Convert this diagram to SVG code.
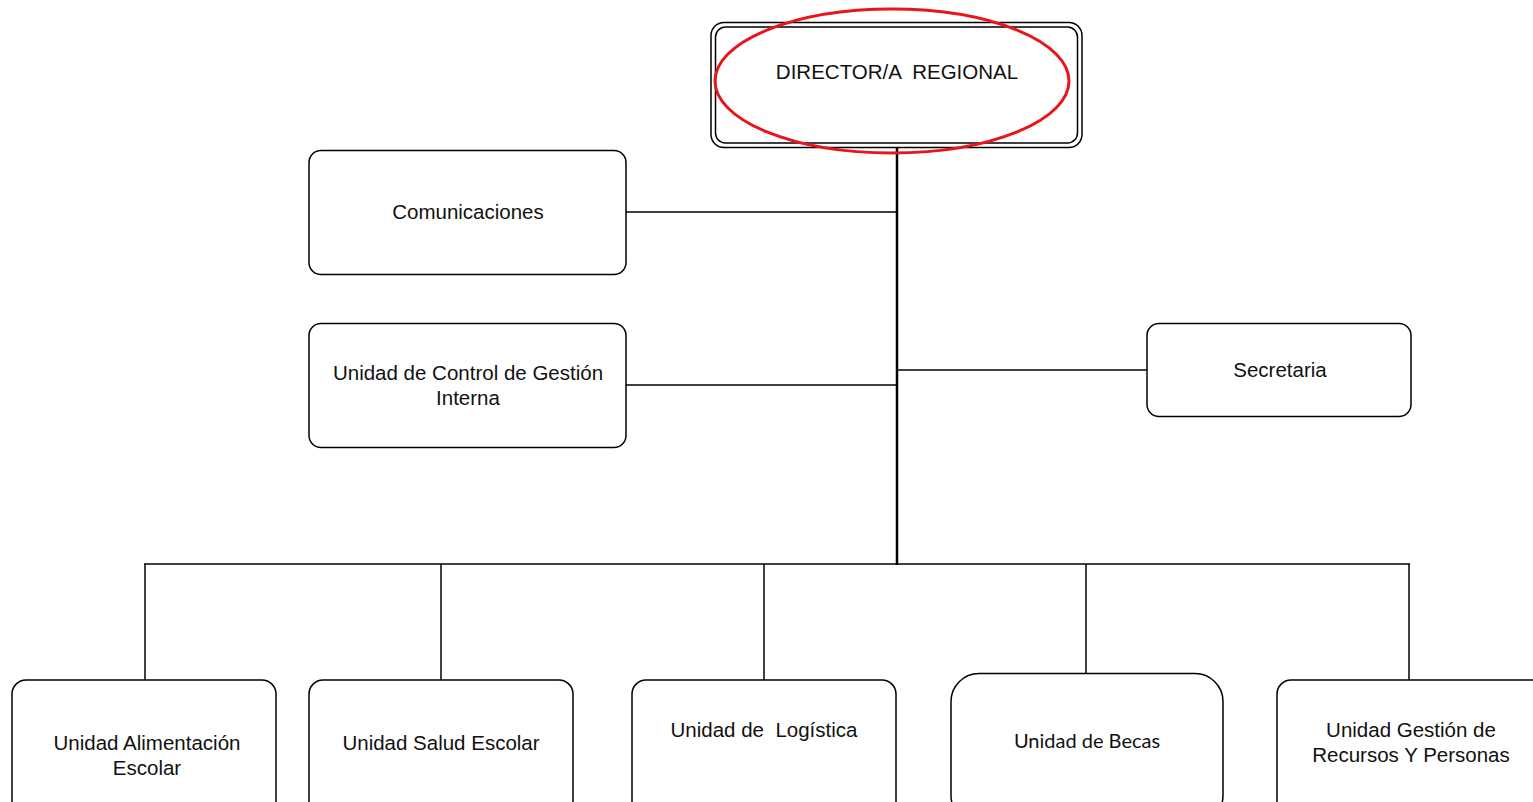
<svg xmlns="http://www.w3.org/2000/svg" width="1533" height="802" viewBox="0 0 1533 802">
<style>
.box{fill:#fff;stroke:#000;stroke-width:1.5}
.t{font-family:"Liberation Sans",Arial,sans-serif;font-size:20.5px;fill:#111;text-anchor:middle}
.c{stroke:#000;stroke-width:1.5;fill:none}
</style>
<rect width="1533" height="802" fill="#fff"/>
<g id="connectors">
<line class="c" x1="897" y1="147" x2="897" y2="565" style="stroke-width:2.5"/>
<line class="c" x1="626" y1="212" x2="897" y2="212"/>
<line class="c" x1="626" y1="385" x2="897" y2="385"/>
<line class="c" x1="897" y1="370" x2="1147" y2="370"/>
<line class="c" x1="144" y1="564" x2="1410" y2="564"/>
<line class="c" x1="145" y1="564" x2="145" y2="680"/>
<line class="c" x1="441" y1="564" x2="441" y2="680"/>
<line class="c" x1="764" y1="564" x2="764" y2="680"/>
<line class="c" x1="1086" y1="564" x2="1086" y2="674"/>
<line class="c" x1="1409" y1="564" x2="1409" y2="680"/>
</g>
<g id="director">
<rect class="box" x="711" y="22.5" width="371" height="125" rx="13"/>
<rect class="box" x="715.5" y="27" width="362" height="116" rx="10"/>
<text class="t" x="897" y="79" xml:space="preserve">DIRECTOR/A  REGIONAL</text>
<ellipse cx="892" cy="81" rx="177" ry="72" fill="none" stroke="#e8161b" stroke-width="3"/>
</g>
<g id="comunicaciones">
<rect class="box" x="309" y="150.5" width="317" height="124" rx="12"/>
<text class="t" x="468" y="219">Comunicaciones</text>
</g>
<g id="control">
<rect class="box" x="309" y="323.5" width="317" height="124" rx="12"/>
<text class="t" x="468" y="380">Unidad de Control de Gestión</text>
<text class="t" x="468" y="405">Interna</text>
</g>
<g id="secretaria">
<rect class="box" x="1147" y="323.5" width="264" height="93" rx="12"/>
<text class="t" x="1280" y="377">Secretaria</text>
</g>
<g id="alimentacion">
<rect class="box" x="12" y="680" width="264" height="140" rx="14"/>
<text class="t" x="147" y="750">Unidad Alimentación</text>
<text class="t" x="147" y="775">Escolar</text>
</g>
<g id="salud">
<rect class="box" x="309" y="680" width="264" height="140" rx="14"/>
<text class="t" x="441" y="750">Unidad Salud Escolar</text>
</g>
<g id="logistica">
<rect class="box" x="632" y="680" width="264" height="140" rx="14"/>
<text class="t" x="764" y="737" xml:space="preserve">Unidad de  Logística</text>
</g>
<g id="becas">
<rect class="box" x="951" y="673.5" width="272" height="150" rx="28"/>
<text x="1087" y="748" style="font-family:Lato,'Open Sans',sans-serif;font-size:20px;fill:#111;text-anchor:middle">Unidad de Becas</text>
</g>
<g id="recursos">
<rect class="box" x="1277" y="680" width="270" height="140" rx="14"/>
<text class="t" x="1411" y="737">Unidad Gestión de</text>
<text class="t" x="1411" y="762">Recursos Y Personas</text>
</g>
</svg>
